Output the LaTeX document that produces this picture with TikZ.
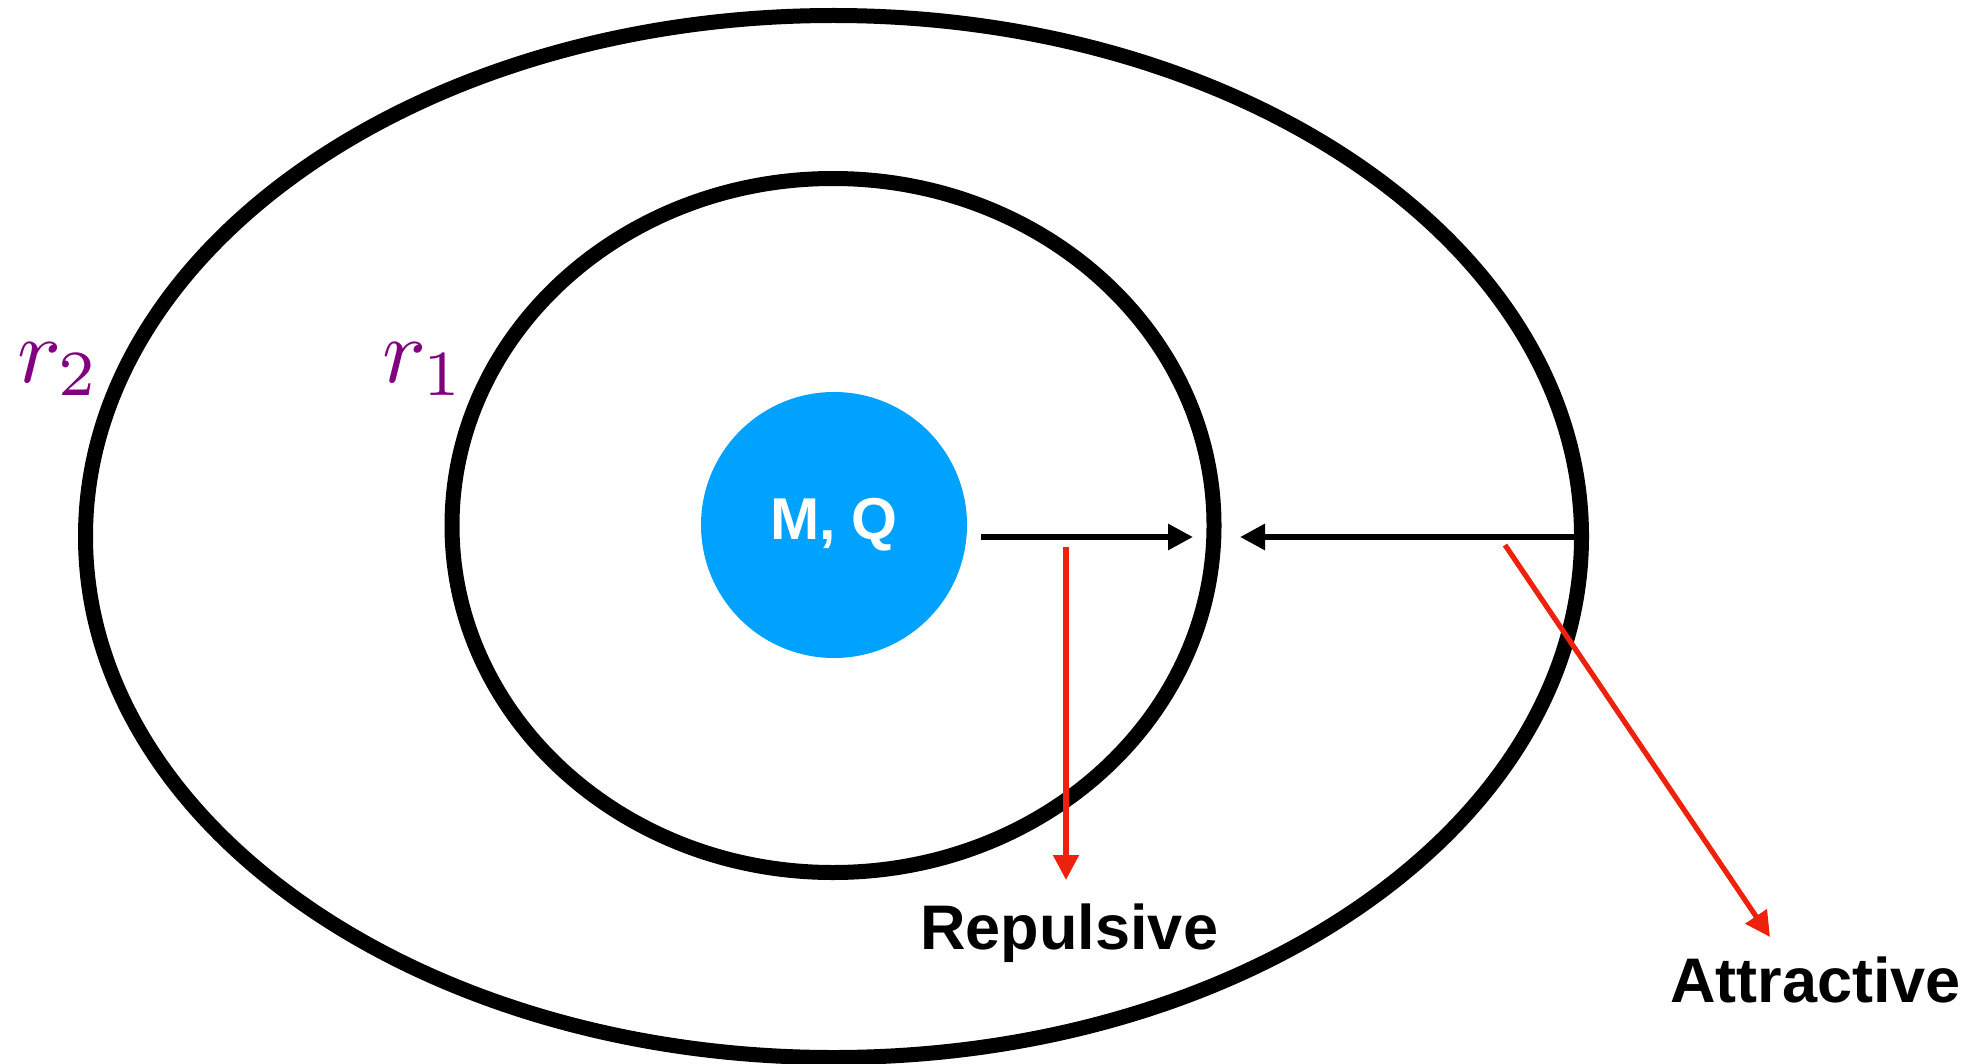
\documentclass[tikz,border=0pt]{standalone}
\usepackage{graphicx}
\usepackage{fontspec}
\newfontfamily\hv{Liberation Sans}
\usetikzlibrary{arrows.meta}
\definecolor{kblue}{RGB}{0,162,255}
\definecolor{kred}{RGB}{238,34,12}
\definecolor{kpurple}{RGB}{128,0,128}
\begin{document}
\begin{tikzpicture}[x=0.5pt,y=-0.5pt,
  ring/.style={draw=black,line width=7.5pt},
  blackarrow/.style={draw=black,line width=3pt,-{Triangle[length=12.5pt,width=12.5pt]}},
  redarrow/.style={draw=kred,line width=2.6pt,-{Triangle[length=12.5pt,width=12.5pt]}},
  rlabel/.style={anchor=base west,inner sep=0pt,text=kpurple},
  wlabel/.style={anchor=base west,inner sep=0pt,font=\hv\bfseries\fontsize{31.5}{38}\selectfont}]
\useasboundingbox (0,0) rectangle (1984,1064);
\fill[white] (0,0) rectangle (1984,1064);
\draw[ring] (833.5,536.5) ellipse [x radius=748, y radius=521];
\draw[ring] (833,525.5) ellipse [x radius=381, y radius=347];
\node[circle,fill=kblue,minimum size=133pt,inner sep=0pt,text=white,font=\hv\bfseries\fontsize{29.5}{35}\selectfont] (mq) at (834,525) {M, Q};
\node[rlabel] (r2) at (17,382) {\scalebox{4.6}{$r_2$}};
\node[rlabel] (r1) at (382,382) {\scalebox{4.6}{$r_1$}};
\coordinate (a1s) at (981,537);
\coordinate (a1e) at (1193,537);
\coordinate (a2s) at (1575,537);
\coordinate (a2e) at (1240,537);
\draw[blackarrow] (a1s) -- (a1e);
\draw[blackarrow] (a2s) -- (a2e);
\coordinate (rps) at (1066,547);
\coordinate (rpe) at (1066,880);
\coordinate (ats) at (1505,545);
\coordinate (ate) at (1770,937);
\draw[redarrow] (rps) -- (rpe);
\draw[redarrow] (ats) -- (ate);
\node[wlabel] (rep) at (920,949) {Repulsive};
\node[wlabel] (att) at (1670,1002) {Attractive};
\end{tikzpicture}
\end{document}
